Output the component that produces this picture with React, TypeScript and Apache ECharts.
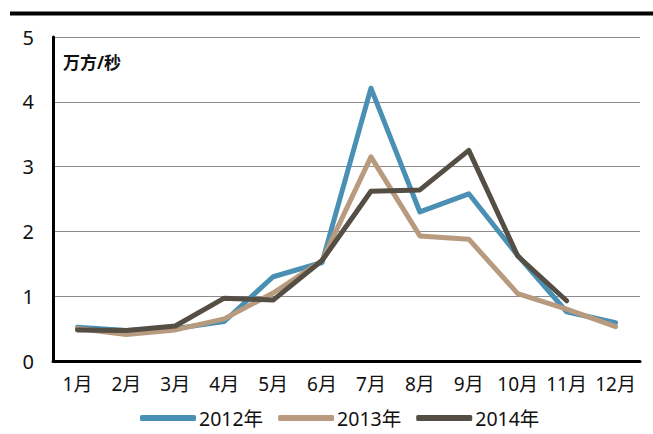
import React, { useEffect, useRef } from "react";
import * as echarts from "echarts";

const months = ["1月", "2月", "3月", "4月", "5月", "6月", "7月", "8月", "9月", "10月", "11月", "12月"];
const s2012 = [0.52, 0.47, 0.5, 0.61, 1.3, 1.52, 4.21, 2.3, 2.58, 1.63, 0.76, 0.59];
const s2013 = [0.5, 0.41, 0.48, 0.65, 1.05, 1.55, 3.15, 1.93, 1.88, 1.04, 0.8, 0.53];
const s2014 = [0.48, 0.47, 0.54, 0.97, 0.94, 1.55, 2.62, 2.64, 3.25, 1.62, 0.93];
const seriesNames = ["2012年", "2013年", "2014年"];
const colors = ["#4a90b4", "#b89b7f", "#554e45"];
const unitLabel = "万方/秒";

const FONT = '"Noto Sans", "Noto Sans CJK SC", sans-serif';

export default function App() {
  const ref = useRef<HTMLDivElement>(null);
  useEffect(() => {
    if (!ref.current) return;
    const chart = echarts.init(ref.current, null, { renderer: "svg" });
    const data = [s2012, s2013, s2014];
    chart.setOption({
      animation: false,
      backgroundColor: "#ffffff",
      textStyle: { fontFamily: FONT },
      grid: { left: 53, right: 13, top: 37, bottom: 73, containLabel: false },
      graphic: [
        {
          type: "line",
          shape: { x1: 10, y1: 13.5, x2: 653, y2: 13.5 },
          style: { stroke: "#000", lineWidth: 4 },
        },
        {
          type: "text",
          left: 63,
          top: 54,
          style: {
            text: unitLabel,
            font: `bold 17px ${FONT}`,
            fill: "#111",
          },
        },
      ],
      legend: {
        top: 408,
        left: 138,
        padding: [0, 2],
        itemWidth: 56,
        itemHeight: 6,
        itemGap: 15,
        icon: "roundRect",
        textStyle: { fontSize: 19.5, lineHeight: 20, color: "#111", fontFamily: FONT, padding: [0, 0, 0, -2] },
        data: seriesNames,
      },
      xAxis: {
        type: "category",
        data: months,
        boundaryGap: true,
        axisLine: { show: true, lineStyle: { color: "#000", width: 3 } },
        axisTick: { show: false },
        axisLabel: { fontSize: 19, color: "#111", margin: 13, fontFamily: FONT, interval: 0 },
        splitLine: { show: false },
      },
      yAxis: {
        type: "value",
        min: 0,
        max: 5,
        interval: 1,
        axisLine: { show: true, lineStyle: { color: "#000", width: 3 } },
        axisTick: { show: false },
        axisLabel: { fontSize: 20, color: "#111", margin: 19, fontFamily: FONT },
        splitLine: { show: true, lineStyle: { color: "#8c8c8c", width: 1.2 } },
      },
      series: seriesNames.map((name, i) => ({
        name,
        type: "line",
        data: data[i],
        symbol: "none",
        showSymbol: false,
        color: colors[i],
        lineStyle: { width: 5, color: colors[i], cap: "round", join: "round" },
        itemStyle: { color: colors[i] },
        z: 2 + i,
      })),
    });
    return () => chart.dispose();
  }, []);
  return (
    <div
      ref={ref}
      style={{ position: "fixed", left: 0, top: 0, width: 653, height: 434, background: "#fff" }}
    />
  );
}
